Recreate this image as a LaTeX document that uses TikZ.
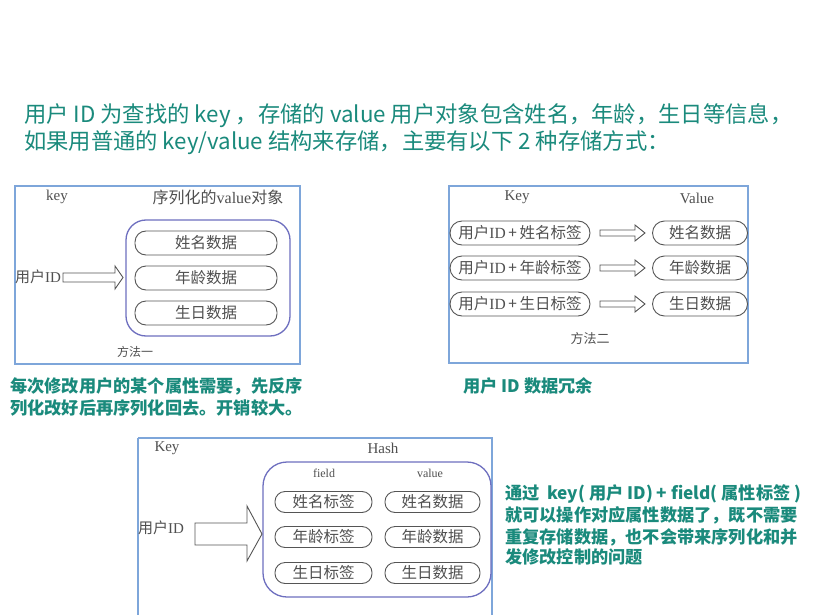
\documentclass[tikz,border=0pt]{standalone}
\usepackage{fontspec}
\setmainfont{Liberation Serif}
\newfontfamily\cjk{Noto Sans CJK SC}
\newcommand{\zh}[1]{{\cjk #1}}
\definecolor{teal1}{HTML}{1A8A7C}
\definecolor{frameblue}{HTML}{7EA6DA}
\definecolor{innerpurple}{HTML}{6E6FBF}
\definecolor{pillgray}{HTML}{555555}
\definecolor{txtgray}{HTML}{505050}
\tikzset{
  frame/.style={draw=frameblue, line width=1.3pt},
  inner/.style={draw=innerpurple, line width=1.3pt, rounded corners=20pt},
  pill/.style={draw=pillgray, line width=0.9pt, rounded corners=11pt, minimum height=24pt, inner sep=0pt, text=txtgray, font=\cjk\fontsize{15.5}{15.5}\selectfont},
  lbl/.style={text=txtgray, inner sep=0pt, font=\fontsize{15}{15}\selectfont},
  hollow/.style={draw=pillgray, line width=0.9pt, fill=white},
  heading/.style={text=teal1, anchor=west, inner sep=0pt, font=\cjk\fontsize{22.3}{22.3}\selectfont},
  caption/.style={text=teal1, anchor=west, inner sep=0pt, font=\cjk\bfseries\fontsize{17.2}{17.2}\selectfont},
}
\begin{document}
\begin{tikzpicture}[x=1pt,y=-1pt]
\useasboundingbox (0,0) rectangle (813,615);
\fill[white] (0,0) rectangle (813,615);

% heading
\node[heading] (h1) at (24,116) {用户 ID 为查找的 key ，存储的 value 用户对象包含姓名，年龄，生日等信息，};
\node[heading] (h2) at (24,143) {如果用普通的 key/value 结构来存储，主要有以下 2 种存储方式：};

% ---------- method 1
\draw[frame] (15,186) rectangle (300,364);
\node[lbl] (k1) at (57,197) {key};
\node[lbl, font=\fontsize{16}{16}\selectfont] (v1) at (218,197) {\zh{序列化的}value\zh{对象}};
\draw[inner] (126,220) rectangle (290,336);
\node[pill, minimum width=142pt] (p11) at (206,243) {姓名数据};
\node[pill, minimum width=142pt] (p12) at (206,278) {年龄数据};
\node[pill, minimum width=142pt] (p13) at (206,313) {生日数据};
\node[lbl, anchor=west] (u1) at (15,277) {\zh{用户}ID};
\draw[hollow] (63,273) -- (115,273) -- (115,266) -- (123,277.5) -- (115,289) -- (115,282) -- (63,282) -- cycle;
\node[lbl, font=\cjk\fontsize{12}{12}\selectfont] (m1) at (135,352) {方法一};

% ---------- method 2
\draw[frame] (449,186) rectangle (748,363);
\node[lbl] (k2) at (517,197) {Key};
\node[lbl] (v2) at (697,198) {Value};
\foreach \y/\a/\b [count=\i] in {233/姓名标签/姓名数据, 268/年龄标签/年龄数据, 304/生日标签/生日数据}{
  \node[pill, minimum width=140pt, rounded corners=12pt] (l\i) at (520,\y) {\zh{用户}{\rmfamily ID}\,+\,\zh{\a}};
  \node[pill, minimum width=95pt, rounded corners=12pt] (r\i) at (700,\y) {\zh{\b}};
  \draw[hollow] (600,\y-3) -- (635,\y-3) -- (635,\y-8) -- (645,\y) -- (635,\y+8) -- (635,\y+3) -- (600,\y+3) -- cycle;
}
\node[lbl, font=\cjk\fontsize{13}{13}\selectfont] (m2) at (590,339) {方法二};

% ---------- method 3
\draw[frame] (138,438) -- (492,438) -- (492,617);
\draw[frame] (138,438) -- (138,617);
\node[lbl] (k3) at (167,448) {Key};
\node[lbl] (v3) at (383,448) {Hash};
\draw[inner, rounded corners=24pt] (263,462) rectangle (491,597);
\node[lbl, font=\fontsize{12}{12}\selectfont] (f3) at (324,473) {field};
\node[lbl, font=\fontsize{12}{12}\selectfont] (w3) at (430,473) {value};
\foreach \y/\a/\b [count=\i] in {502/姓名标签/姓名数据, 537/年龄标签/年龄数据, 573/生日标签/生日数据}{
  \node[pill, minimum width=97pt, minimum height=21pt, rounded corners=10pt] (fl\i) at (323.5,\y) {\a};
  \node[pill, minimum width=95pt, minimum height=21pt, rounded corners=10pt] (vl\i) at (432.5,\y) {\b};
}
\node[lbl, anchor=west] (u3) at (138,528) {\zh{用户}ID};
\draw[hollow] (195,523) -- (247,523) -- (247,506) -- (262,534) -- (247,561) -- (247,545) -- (195,545) -- cycle;

% captions
\node[caption] (c1a) at (10,386) {每次修改用户的某个属性需要，先反序};
\node[caption] (c1b) at (10,408) {列化改好后再序列化回去。开销较大。};
\node[caption] (c2) at (463,386) {用户 ID 数据冗余};
\node[caption] (c3a) at (505,494) {通过\ \ key( 用户 ID) + field( 属性标签 )};
\node[caption] (c3b) at (505,515) {就可以操作对应属性数据了，既不需要};
\node[caption] (c3c) at (505,537) {重复存储数据，也不会带来序列化和并};
\node[caption] (c3d) at (505,557) {发修改控制的问题};
\end{tikzpicture}
\end{document}
